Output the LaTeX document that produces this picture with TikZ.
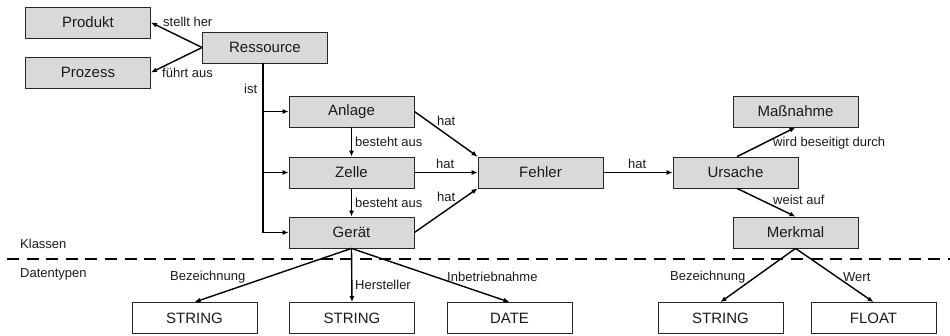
\documentclass[tikz,border=0pt]{standalone}
\usepackage{fontspec}
\setmainfont{Liberation Sans}
\usetikzlibrary{arrows.meta}
\definecolor{boxgray}{HTML}{D9D9D9}
\definecolor{txt}{HTML}{1A1A1A}
\tikzset{
  cls/.style={draw=black!85, line width=0.8pt, fill=boxgray, text=txt, minimum width=125pt, minimum height=31pt, inner sep=0pt, font=\fontsize{15}{17}\selectfont},
  dtype/.style={draw=black!85, line width=0.8pt, fill=white, text=txt, minimum width=125pt, minimum height=31pt, inner sep=0pt, font=\fontsize{15}{17}\selectfont},
  lbl/.style={anchor=west, inner sep=0pt, text=txt, font=\fontsize{13}{15}\selectfont},
  conn/.style={line width=1.4pt, -{Latex[length=6pt,width=5pt]}},
  plain/.style={line width=1.4pt},
  sep/.style={line width=2.8pt, dash pattern=on 12pt off 7.6pt}
}
\begin{document}
\begin{tikzpicture}[x=1pt,y=-1pt]
\useasboundingbox (0,0) rectangle (950,335);
% classes
\node[cls] (prod) at (88,22.5) {Produkt};
\node[cls] (proz) at (88,72.5) {Prozess};
\node[cls] (res) at (265,47.5) {Ressource};
\node[cls] (anl) at (351.5,111.5) {Anlage};
\node[cls] (zel) at (351.5,172.5) {Zelle};
\node[cls] (ger) at (351.5,232.5) {Gerät};
\node[cls] (feh) at (540.5,172.5) {Fehler};
\node[cls] (urs) at (735.5,172.5) {Ursache};
\node[cls] (mas) at (795.5,111.5) {Maßnahme};
\node[cls] (mer) at (795.5,232.5) {Merkmal};
% data types
\node[dtype] (s1) at (194.5,318) {STRING};
\node[dtype] (s2) at (352,318) {STRING};
\node[dtype] (dat) at (509.5,318) {DATE};
\node[dtype] (s3) at (720.5,318) {STRING};
\node[dtype] (flt) at (873.5,318) {FLOAT};
% separator
\coordinate (sepL) at (7,259);
\coordinate (sepR) at (950,259);
\draw[sep] (sepL) -- (sepR);
\node[lbl] (klassen) at (20,244) {Klassen};
\node[lbl] (daten) at (20,274) {Datentypen};
% Ressource connectors
\draw[conn] (res.west) -- (prod.east);
\draw[conn] (res.west) -- (proz.east);
\node[lbl] (l1) at (163,22) {stellt her};
\node[lbl] (l2) at (162,73) {führt aus};
\coordinate (trunk) at ([xshift=-2pt]res.south);
\draw[plain] (trunk) -- (trunk |- ger.west);
\draw[conn] (trunk |- anl.west) -- (anl.west);
\draw[conn] (trunk |- zel.west) -- (zel.west);
\draw[conn] ([xshift=-0.7pt]trunk |- ger.west) -- (ger.west);
\node[lbl] (l3) at (244,89) {ist};
% Anlage/Zelle/Geraet
\draw[conn] (anl.south) -- (zel.north);
\draw[conn] (zel.south) -- (ger.north);
\node[lbl] (l4) at (355,142) {besteht aus};
\node[lbl] (l5) at (355,203) {besteht aus};
\draw[conn] (anl.east) -- (feh.north west);
\draw[conn] (zel.east) -- (feh.west);
\draw[conn] (ger.east) -- (feh.south west);
\node[lbl] (l6) at (437,121) {hat};
\node[lbl] (l7) at (436,164) {hat};
\node[lbl] (l8) at (437,197) {hat};
% Fehler -> Ursache
\draw[conn] (feh.east) -- (urs.west);
\node[lbl] (l9) at (628,164) {hat};
\draw[conn] ([xshift=1.5pt]urs.north) -- (mas.south);
\draw[conn] ([xshift=1.5pt]urs.south) -- (mer.north);
\node[lbl] (l10) at (773,143) {wird beseitigt durch};
\node[lbl] (l11) at (773,200) {weist auf};
% data type links
\draw[conn] (ger.south) -- (s1.north);
\draw[conn] (ger.south) -- (s2.north);
\draw[conn] (ger.south) -- (dat.north);
\node[lbl] (l12) at (170,277) {Bezeichnung};
\node[lbl] (l13) at (355,285) {Hersteller};
\node[lbl] (l14) at (447,277) {Inbetriebnahme};
\draw[conn] (mer.south) -- (s3.north);
\draw[conn] (mer.south) -- (flt.north);
\node[lbl] (l15) at (670,277) {Bezeichnung};
\node[lbl] (l16) at (843,277) {Wert};
\end{tikzpicture}
\end{document}
